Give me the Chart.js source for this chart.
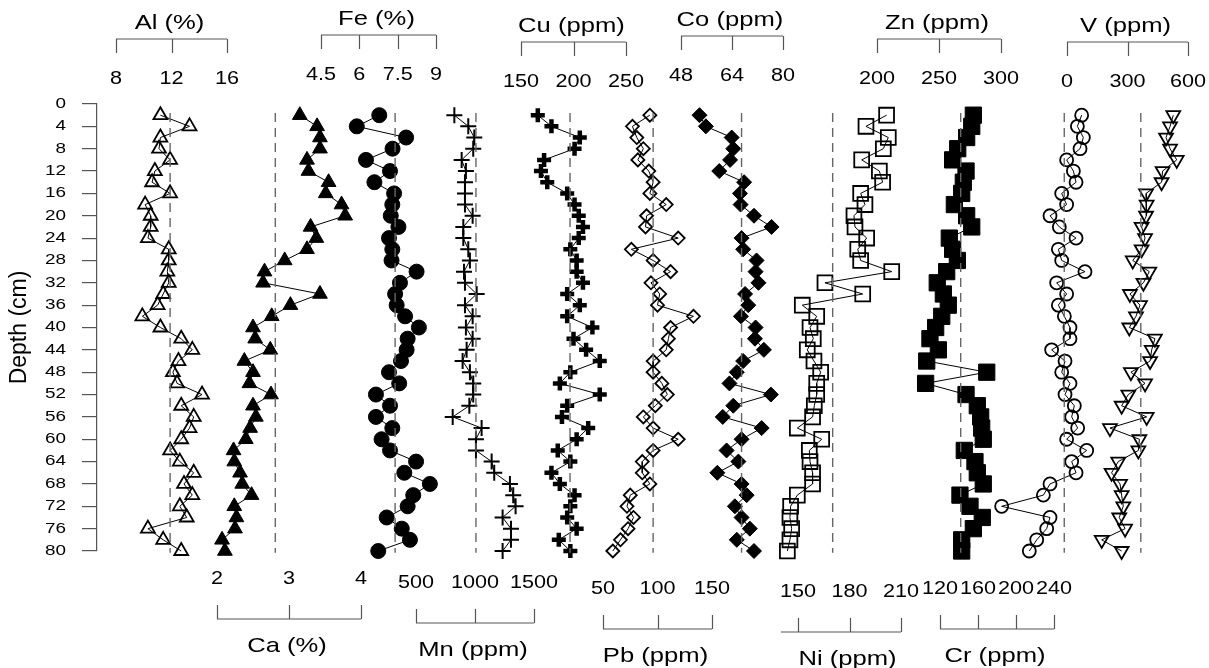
<!DOCTYPE html>
<html>
<head>
<meta charset="utf-8">
<title>Core profiles</title>
<script src="https://cdn.jsdelivr.net/npm/chart.js@4.4.1/dist/chart.umd.min.js"></script>
<style>
  body { margin: 0; background: #fff; }
  canvas { display: block; }
</style>
</head>
<body>
<canvas id="profiles" width="1209" height="668"></canvas>
<script>
// Sampling depths (cm), one value per slice
const depth = [2, 4, 6, 8, 10, 12, 14, 16, 18, 20, 22, 24, 26, 28, 30, 32, 34, 36, 38, 40,
               42, 44, 46, 48, 50, 52, 54, 56, 58, 60, 62, 64, 66, 68, 70, 72, 74, 76, 78, 80];

// Element concentrations down the core
const al = [11.2, 13.3, 11.2, 11.1, 11.9, 10.8, 10.6, 11.9, 10.1, 10.5, 10.5, 10.3, 11.8, 11.8, 11.7, 11.8, 11.4, 11.0, 9.9, 11.2,
            12.7, 13.5, 12.5, 12.1, 12.4, 14.2, 12.7, 13.6, 13.3, 12.7, 11.9, 12.6, 13.6, 12.9, 13.5, 12.6, 13.1, 10.3, 11.4, 12.7];
const ca = [3.15, 3.39, 3.43, 3.43, 3.25, 3.27, 3.55, 3.51, 3.73, 3.78, 3.30, 3.38, 3.25, 2.94, 2.66, 2.64, 3.43, 3.02, 2.76, 2.50,
            2.53, 2.74, 2.38, 2.50, 2.45, 2.75, 2.50, 2.54, 2.46, 2.40, 2.23, 2.24, 2.32, 2.35, 2.48, 2.24, 2.27, 2.25, 2.07, 2.11];
const fe = [6.78, 5.90, 7.83, 7.30, 6.26, 7.20, 6.59, 7.36, 7.29, 7.23, 7.53, 7.16, 7.29, 7.26, 8.24, 7.59, 7.40, 7.46, 7.79, 8.33,
            7.89, 7.85, 7.63, 7.16, 7.56, 6.65, 7.20, 6.65, 7.29, 6.87, 7.20, 8.22, 7.76, 8.76, 8.11, 7.89, 7.07, 7.66, 7.98, 6.74];
const mn = [825, 943, 994, 985, 887, 923, 915, 915, 915, 980, 901, 901, 943, 957, 907, 915, 1014, 915, 980, 923,
            980, 929, 895, 957, 985, 985, 952, 811, 1056, 1008, 1008, 1141, 1163, 1296, 1324, 1344, 1234, 1305, 1305, 1234];
const cu = [166, 179, 206, 201, 172, 169, 175, 194, 201, 205, 209, 205, 197, 203, 203, 209, 194, 206, 194, 218,
            200, 212, 225, 197, 187, 225, 194, 189, 214, 203, 185, 197, 179, 187, 201, 197, 194, 203, 186, 197];
const pb = [93, 77, 81, 87, 82, 92, 96, 93, 108, 90, 89, 119, 76, 96, 112, 94, 102, 100, 133, 112,
            110, 108, 96, 96, 104, 109, 98, 87, 96, 119, 96, 86, 86, 93, 75, 72, 78, 73, 66, 59];
const co = [53.8, 55.8, 63.9, 64.4, 63.4, 60.0, 67.8, 66.5, 66.7, 70.9, 76.4, 67.0, 67.5, 71.7, 71.4, 72.3, 68.1, 69.1, 66.8, 71.4,
            71.2, 74.0, 67.5, 65.5, 63.2, 76.2, 64.4, 61.1, 73.3, 67.0, 62.3, 66.0, 59.4, 67.0, 68.6, 64.9, 67.0, 69.6, 65.5, 70.9];
const ni = [201.6, 189.6, 202.6, 199.7, 187.1, 197.4, 199.3, 186.5, 189.0, 182.6, 183.2, 190.0, 184.8, 186.5, 204.6, 165.7, 187.7, 152.5, 160.9, 157.0,
            158.9, 155.4, 159.3, 163.2, 160.9, 160.9, 159.5, 158.5, 149.6, 163.8, 156.6, 157.0, 158.5, 158.5, 149.6, 145.7, 145.3, 146.3, 145.3, 143.8];
const zn = [277.7, 276.4, 272.3, 265.1, 261.0, 271.8, 269.6, 268.3, 262.4, 272.3, 276.4, 258.3, 261.0, 264.8, 256.2, 248.6, 253.5, 257.5, 252.2, 247.3,
            242.7, 249.5, 240.1, 288.5, 239.2, 271.8, 280.9, 283.6, 284.4, 285.7, 270.4, 279.0, 280.9, 285.7, 266.9, 275.0, 284.9, 277.7, 268.3, 268.3];
const cr = [269.1, 264.6, 270.9, 267.4, 253.3, 260.4, 263.2, 248.1, 253.3, 235.8, 245.6, 263.2, 244.6, 248.1, 272.6, 242.8, 253.3, 244.6, 250.9, 256.8,
            256.8, 237.5, 251.6, 248.1, 256.8, 251.6, 261.4, 258.6, 264.9, 253.3, 274.4, 258.6, 263.2, 235.8, 228.8, 184.9, 235.8, 232.3, 221.8, 214.0];
const v  = [527, 511, 491, 511, 544, 474, 469, 392, 395, 392, 370, 387, 370, 326, 408, 379, 312, 362, 342, 309,
            436, 420, 412, 317, 387, 304, 271, 395, 213, 359, 354, 254, 221, 263, 271, 279, 259, 288, 172, 271];

// Background level of each element (dashed line), same order as the panels
const background = [11.9, 2.81, 7.4, 1008, 196.7, 96, 67.0, 170.2, 267.5, 250.8, 366];

// Tick labels of each panel axis
const alTicks = [8, 12, 16];
const caTicks = [2, 3, 4];
const feTicks = [4.5, 6, 7.5, 9];
const mnTicks = [500, 1000, 1500];
const cuTicks = [150, 200, 250];
const pbTicks = [50, 100, 150];
const coTicks = [48, 64, 80];
const niTicks = [150, 180, 210];
const znTicks = [200, 250, 300];
const crTicks = [120, 160, 200, 240];
const vTicks  = [0, 300, 600];

const depthTicks = [0, 4, 8, 12, 16, 20, 24, 28, 32, 36, 40, 44, 48, 52, 56, 60, 64, 68, 72, 76, 80];

const AREA_LEFT = 97;
const AREA_RIGHT = 1200;
const FONT = '"Liberation Sans", Arial, Helvetica, sans-serif';

// One panel per element: where its first/last tick sits (px), the bracket line height and marker
const panels = [
  { id: 'al', title: 'Al (%)',   side: 'top',    values: al, ticks: alTicks, px: [116, 227], lineY: 39,
    marker: { pointStyle: 'triangle', radius: 8, fill: false } },
  { id: 'ca', title: 'Ca (%)',   side: 'bottom', values: ca, ticks: caTicks, px: [217, 361], lineY: 619,
    marker: { pointStyle: 'triangle', radius: 8.5, fill: true } },
  { id: 'fe', title: 'Fe (%)',   side: 'top',    values: fe, ticks: feTicks, px: [321, 436], lineY: 35,
    marker: { pointStyle: 'circle', radius: 7.5, fill: true } },
  { id: 'mn', title: 'Mn (ppm)', side: 'bottom', values: mn, ticks: mnTicks, px: [416, 534], lineY: 623,
    marker: { pointStyle: 'cross', radius: 8, fill: false, width: 2 } },
  { id: 'cu', title: 'Cu (ppm)', side: 'top',    values: cu, ticks: cuTicks, px: [521, 626], lineY: 42,
    marker: { pointStyle: 'cross', radius: 7, fill: false, width: 4.5 } },
  { id: 'pb', title: 'Pb (ppm)', side: 'bottom', values: pb, ticks: pbTicks, px: [603, 712], lineY: 629,
    marker: { pointStyle: 'rectRot', radius: 6.5, fill: false } },
  { id: 'co', title: 'Co (ppm)', side: 'top',    values: co, ticks: coTicks, px: [681, 783], lineY: 36,
    marker: { pointStyle: 'rectRot', radius: 7.5, fill: true } },
  { id: 'ni', title: 'Ni (ppm)', side: 'bottom', values: ni, ticks: niTicks, px: [798, 901], lineY: 632, lineFrom: 140,
    marker: { pointStyle: 'rect', radius: 10.5, fill: false } },
  { id: 'zn', title: 'Zn (ppm)', side: 'top',    values: zn, ticks: znTicks, px: [877, 1001], lineY: 39,
    marker: { pointStyle: 'rect', radius: 11.5, fill: true } },
  { id: 'cr', title: 'Cr (ppm)', side: 'bottom', values: cr, ticks: crTicks, px: [940, 1054], lineY: 629,
    marker: { pointStyle: 'circle', radius: 6.5, fill: false } },
  { id: 'v',  title: 'V (ppm)',  side: 'top',    values: v,  ticks: vTicks,  px: [1067, 1188], lineY: 42,
    marker: { pointStyle: 'triangle', radius: 8, fill: false, rotation: 180 } }
];

// dashed background line runs from just below the top to the base of the core
const DASH_TOP = 1.6;
const DASH_BOTTOM = 80.3;

function drawText(ctx, str, x, y, size, stretch, align) {
  ctx.save();
  ctx.translate(x, y);
  ctx.scale(stretch, 1);
  ctx.font = size + 'px ' + FONT;
  ctx.textAlign = align || 'center';
  ctx.textBaseline = 'middle';
  ctx.fillText(str, 0, 0);
  ctx.restore();
}

// Bracket-style axes above / below each profile, plus the depth labels
const bracketAxes = {
  id: 'bracketAxes',
  afterDraw(chart) {
    const ctx = chart.ctx;
    ctx.save();
    ctx.strokeStyle = '#555';
    ctx.lineWidth = 1.2;
    ctx.fillStyle = '#000';
    panels.forEach(p => {
      const sc = chart.scales['x_' + p.id];
      const last = p.ticks[p.ticks.length - 1];
      const from = sc.getPixelForValue(p.lineFrom !== undefined ? p.lineFrom : p.ticks[0]);
      const to = sc.getPixelForValue(last);
      const dir = p.side === 'top' ? 1 : -1;
      ctx.beginPath();
      ctx.moveTo(from, p.lineY);
      ctx.lineTo(to, p.lineY);
      p.ticks.forEach(t => {
        const x = Math.round(sc.getPixelForValue(t)) + 0.5;
        ctx.moveTo(x, p.lineY);
        ctx.lineTo(x, p.lineY + dir * 14);
      });
      ctx.stroke();
      p.ticks.forEach(t => {
        drawText(ctx, String(t), sc.getPixelForValue(t), p.lineY + dir * 40, 18, 1.2);
      });
      const mid = (sc.getPixelForValue(p.ticks[0]) + to) / 2;
      drawText(ctx, p.title, mid - 2, p.side === 'top' ? p.lineY - 16 : p.lineY + 27, 21, 1.22);
    });

    const ys = chart.scales.y;
    depthTicks.forEach(t => {
      drawText(ctx, String(t), 66, ys.getPixelForValue(t), 14, 1.35, 'right');
    });
    ctx.restore();
  }
};

const scales = {
  y: {
    type: 'linear',
    position: 'left',
    reverse: true,
    min: 0,
    max: 80,
    afterFit(scale) { scale.width = AREA_LEFT; },
    afterBuildTicks(scale) { scale.ticks = depthTicks.map(value => ({ value })); },
    ticks: { display: false },
    grid: { drawOnChartArea: false, drawTicks: true, tickLength: 15, color: '#555', lineWidth: 1.2 },
    border: { display: true, color: '#555', width: 1.2 },
    title: {
      display: true,
      text: 'Depth (cm)',
      color: '#000',
      font: { family: FONT, size: 23 },
      padding: { top: 6, bottom: 0 }
    }
  }
};

const datasets = [];
panels.forEach((p, i) => {
  const t0 = p.ticks[0];
  const t1 = p.ticks[p.ticks.length - 1];
  const k = (p.px[1] - p.px[0]) / (t1 - t0);
  scales['x_' + p.id] = {
    type: 'linear',
    display: false,
    min: t0 - (p.px[0] - AREA_LEFT) / k,
    max: t0 + (AREA_RIGHT - p.px[0]) / k
  };

  datasets.push({
    label: p.title + ' background',
    xAxisID: 'x_' + p.id,
    data: [{ x: background[i], y: DASH_TOP }, { x: background[i], y: DASH_BOTTOM }],
    showLine: true,
    borderColor: '#666',
    borderWidth: 1.4,
    borderDash: [9, 6],
    pointRadius: 0,
    clip: false
  });

  const m = p.marker;
  datasets.push({
    label: p.title,
    xAxisID: 'x_' + p.id,
    data: p.values.map((val, j) => ({ x: val, y: depth[j] })),
    showLine: true,
    borderColor: '#000',
    borderWidth: 1,
    pointStyle: m.pointStyle,
    pointRadius: m.radius,
    pointRotation: m.rotation || 0,
    pointBackgroundColor: m.fill ? '#000' : 'rgba(0,0,0,0)',
    pointBorderColor: '#000',
    pointBorderWidth: m.width || (m.fill ? 1 : 1.8),
    clip: false
  });
});

new Chart(document.getElementById('profiles'), {
  type: 'scatter',
  data: { datasets },
  options: {
    responsive: false,
    animation: false,
    events: [],
    layout: { autoPadding: false, padding: { left: 0, right: 1209 - AREA_RIGHT, top: 104, bottom: 117 } },
    plugins: { legend: { display: false }, tooltip: { enabled: false } },
    scales
  },
  plugins: [bracketAxes]
});
</script>
</body>
</html>
